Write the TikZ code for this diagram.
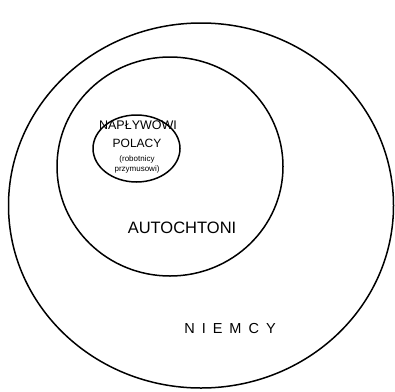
\documentclass[tikz,border=0pt]{standalone}
\usepackage{fontspec}
\setmainfont{Liberation Sans}
\usetikzlibrary{positioning}

\begin{document}
\begin{tikzpicture}[
    x=1pt, y=-1pt,
    ring/.style={draw, line width=1.5pt},
    grouptext/.style={inner sep=0pt, align=center, font=\fontsize{#1}{#1}\selectfont},
  ]
    \useasboundingbox (0,0) rectangle (395,391);

    % the three groups
    \draw[ring] (201,205.5) ellipse (192.5 and 182.5);
    \draw[ring] (170,166.5) ellipse (113 and 109.5);
    \draw[ring] (136.5,148.5) ellipse (43.5 and 33.5);

    \node[grouptext=12.5] (naplywowi) at (138,125) {NAPŁYWOWI};
    \node[grouptext=12] (polacy) at (137,143) {POLACY};
    \node[grouptext=8, text width=80pt, font=\fontsize{8}{10}\selectfont]
      (robotnicy) at (137,164) {(robotnicy\\przymusowi)};
    \node[grouptext=16.5] (autochtoni) at (182,228) {AUTOCHTONI};
    \node[grouptext=14.5] (niemcy) at (230,328)
      {N\hspace{7pt}I\hspace{7pt}E\hspace{7pt}M\hspace{7pt}C\hspace{7pt}Y};
\end{tikzpicture}
\end{document}
